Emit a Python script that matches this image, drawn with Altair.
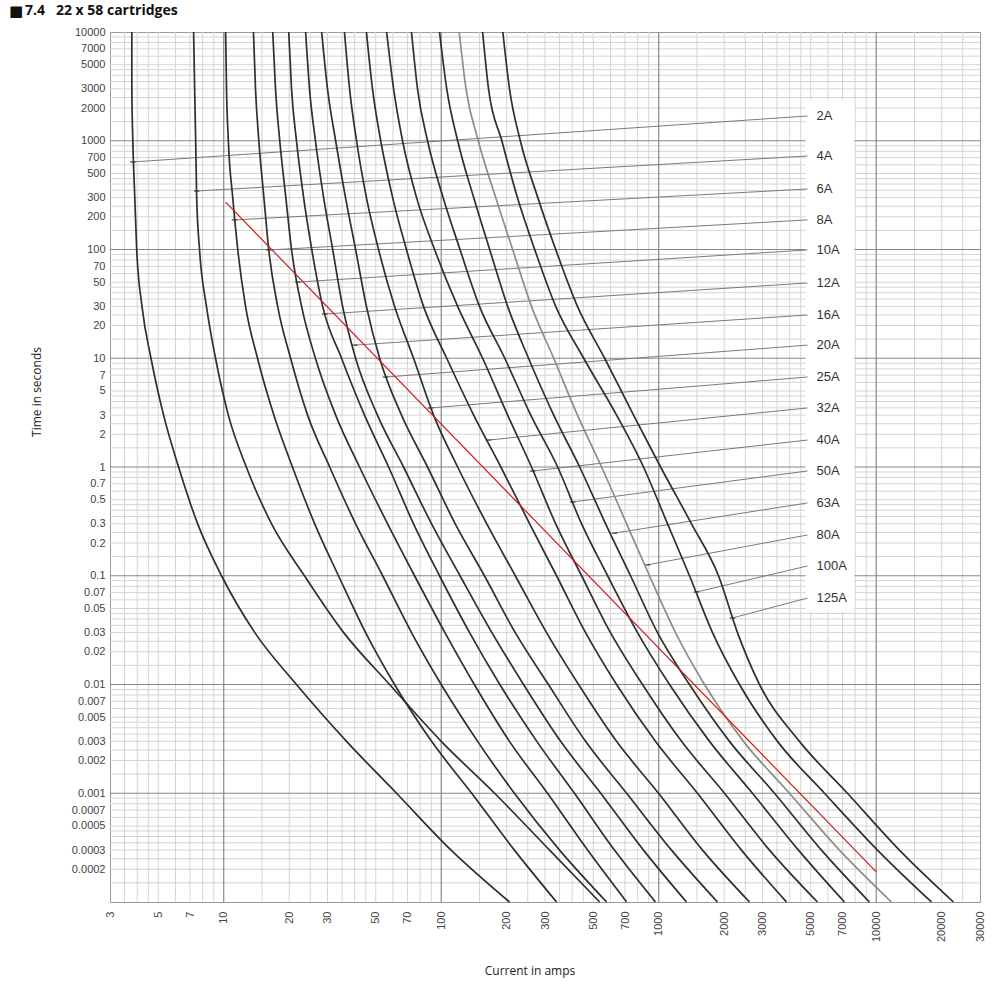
import altair as alt
import pandas as pd

# ---------------- data ----------------
ratings = ["2A", "4A", "6A", "8A", "10A", "12A", "16A", "20A", "25A", "32A",
           "40A", "50A", "63A", "80A", "100A", "125A"]

# pre-arcing time levels (s) at which every curve was read
secs = [10000, 3000, 1000, 300, 100, 30, 10, 3, 1, 0.3, 0.1, 0.03, 0.01,
        0.003, 0.001, 0.0003, 0.0001]

amps_2A = [3.78, 3.78, 3.82, 3.90, 3.98, 4.21, 4.63, 5.29, 6.20, 7.59, 9.77, 13.9, 21.6, 36.7, 62.3, 111, 206]
amps_4A = [7.27, 7.35, 7.43, 7.51, 7.74, 8.33, 9.17, 10.5, 12.7, 16.6, 23.5, 35.6, 57.9, 100, 176, 315, 535]
amps_6A = [10.2, 10.3, 10.5, 11.0, 11.6, 12.6, 14.3, 17.0, 20.7, 26.2, 33.7, 44.9, 61.0, 90.3, 138, 217, 339]
amps_8A = [13.7, 14.0, 14.5, 15.3, 16.1, 17.7, 20.3, 24.3, 30.7, 40.4, 53.8, 73.0, 100, 147, 217, 350, 576]
amps_10A = [16.8, 17.3, 18.1, 19.3, 20.5, 22.8, 26.4, 32.7, 42.1, 56.7, 75.4, 104, 142, 206, 308, 471, 712]
amps_12A = [19.9, 20.5, 21.6, 23.3, 25.4, 28.5, 34.8, 44.4, 57.3, 74.6, 98.2, 135, 186, 275, 410, 626, 966]
amps_16A = [23.8, 24.8, 26.4, 28.8, 31.7, 35.2, 40.4, 50.9, 67.1, 90.3, 122, 171, 239, 354, 541, 851, 1342]
amps_20A = [28.2, 30.0, 32.7, 36.3, 40.4, 45.3, 52.1, 65.7, 86.5, 116, 158, 219, 311, 461, 712, 1145, 1863]
amps_25A = [35.9, 37.9, 40.8, 45.3, 51.5, 61.0, 74.6, 92.2, 119, 162, 219, 305, 428, 640, 998, 1590, 2614]
amps_32A = [45.3, 48.3, 52.7, 59.8, 69.2, 82.9, 106, 141, 188, 255, 339, 461, 640, 966, 1507, 2401, 3866]
amps_40A = [56.1, 60.4, 66.4, 77.0, 93.2, 119, 155, 202, 260, 336, 442, 600, 842, 1273, 2006, 3230, 5367]
amps_50A = [73.0, 77.8, 86.5, 102, 122, 150, 196, 258, 343, 442, 582, 799, 1121, 1712, 2698, 4390, 7143]
amps_63A = [98.2, 106, 119, 141, 167, 202, 252, 329, 433, 570, 742, 987, 1385, 2115, 3405, 5600, 9306]
amps_80A = [121, 130, 148, 178, 213, 260, 329, 423, 546, 712, 907, 1194, 1624, 2453, 3991, 6775, 11746]
amps_100A = [155, 165, 190, 224, 269, 336, 452, 640, 851, 1098, 1385, 1767, 2351, 3515, 5781, 10128, 17935]
amps_125A = [192, 206, 231, 278, 336, 423, 564, 766, 1020, 1415, 1883, 2302, 2906, 4437, 7373, 12783, 22634]

curves = [amps_2A, amps_4A, amps_6A, amps_8A, amps_10A, amps_12A, amps_16A, amps_20A,
          amps_25A, amps_32A, amps_40A, amps_50A, amps_63A, amps_80A, amps_100A, amps_125A]

# leader lines: point on the curve -> label
tick_amps = [3.82, 7.51, 11.2, 16.1, 21.9, 29.1, 40.0, 55.5, 89.3, 165, 263, 402, 626, 888, 1491, 2183]
tick_secs = [638, 345, 187, 99, 50.2, 25.5, 13.2, 6.72, 3.49, 1.77, 0.919, 0.477, 0.247, 0.126, 0.0709, 0.0409]
label_amps = 4830
label_secs = [1689, 724, 360, 187, 99, 49.2, 25.0, 13.2, 6.72, 3.49, 1.77, 0.919, 0.467, 0.237, 0.123, 0.0624]

# label column background
box_amps = [4728, 7940]
box_secs = [2371, 0.0464]

# red reference line
red_amps = [10.2, 10000]
red_secs = [273, 0.000189]

# grid and tick labels
x_major = [10, 100, 1000, 10000]
y_major = [0.001, 0.01, 0.1, 1, 10, 100, 1000]
grid_mults = [1.5, 2, 2.5, 3, 3.5, 4, 4.5, 5, 6, 7, 8, 9]
x_labels = [3, 5, 7, 10, 20, 30, 50, 70, 100, 200, 300, 500, 700, 1000, 2000, 3000,
            5000, 7000, 10000, 20000, 30000]
y_labels = [10000, 7000, 5000, 3000, 2000, 1000, 700, 500, 300, 200, 100, 70, 50, 30, 20,
            10, 7, 5, 3, 2, 1, 0.7, 0.5, 0.3, 0.2, 0.1, 0.07, 0.05, 0.03, 0.02, 0.01,
            0.007, 0.005, 0.003, 0.002, 0.001, 0.0007, 0.0005, 0.0003, 0.0002]

# ---------------- tables ----------------
rows = []
for name, amps in zip(ratings, curves):
    for i, (a, s) in enumerate(zip(amps, secs)):
        rows.append({"fuse": name, "amps": a, "secs": s, "ord": i,
                     "kind": "grey" if name == "80A" else "black"})
df = pd.DataFrame(rows)

lead = pd.DataFrame({"fuse": ratings, "a1": tick_amps, "s1": tick_secs,
                     "a2": [label_amps] * len(ratings), "s2": label_secs})

x_minor = [b * m for b in [1, 10, 100, 1000, 10000] for m in grid_mults]
x_minor = [v for v in x_minor if 3 < v < 30000]
y_minor = [b * m for b in [0.0001, 0.001, 0.01, 0.1, 1, 10, 100, 1000] for m in grid_mults]

LBL_FONT = "Liberation Sans"
TTL_FONT = "Open Sans"

xs = alt.Scale(type="log", domain=[3, 30000], nice=False)
ys = alt.Scale(type="log", domain=[0.0001, 10000], nice=False)

AX_X = alt.Axis(values=x_labels, format="~g", labelAngle=270, labelAlign="right",
                labelBaseline="middle", labelPadding=9, ticks=False, domain=False,
                grid=False, title=None, labelFont=LBL_FONT, labelFontSize=11,
                labelColor="#444", labelFlush=False, labelOverlap=False, labelBound=False)
AX_Y = alt.Axis(values=y_labels, format="~g", labelPadding=5, ticks=False,
                domain=False, grid=False, title=None, labelFont=LBL_FONT,
                labelFontSize=11, labelColor="#444", labelFlush=False,
                labelOverlap=False, labelBound=False)


def X(field):
    return alt.X(field, scale=xs, axis=AX_X)


def Y(field):
    return alt.Y(field, scale=ys, axis=AX_Y)


gx_minor = alt.Chart(pd.DataFrame({"v": x_minor})).mark_rule(color="#d4d4d4", strokeWidth=1).encode(
    x=X("v:Q"))
gy_minor = alt.Chart(pd.DataFrame({"v": y_minor})).mark_rule(color="#d4d4d4", strokeWidth=1).encode(
    y=Y("v:Q"))
gx_major = alt.Chart(pd.DataFrame({"v": x_major})).mark_rule(color="#888888", strokeWidth=1.2).encode(
    x=X("v:Q"))
gy_major = alt.Chart(pd.DataFrame({"v": y_major})).mark_rule(color="#888888", strokeWidth=1.2).encode(
    y=Y("v:Q"))

box = alt.Chart(pd.DataFrame({"a1": [box_amps[0]], "a2": [box_amps[1]],
                              "s1": [box_secs[0]], "s2": [box_secs[1]]})).mark_rect(
    color="white", opacity=1).encode(x=X("a1:Q"), x2="a2:Q", y=Y("s1:Q"), y2="s2:Q")

leaders = alt.Chart(lead).mark_rule(color="#7a7a7a", strokeWidth=1).encode(
    x=X("a1:Q"), x2="a2:Q", y=Y("s1:Q"), y2="s2:Q")

ticks = alt.Chart(lead).mark_point(shape="stroke", size=30, color="#333", strokeWidth=1.6,
                                   filled=False).encode(x=X("a1:Q"), y=Y("s1:Q"))

lines = alt.Chart(df).mark_line(strokeWidth=1.7, interpolate="monotone").encode(
    x=X("amps:Q"),
    y=Y("secs:Q"),
    detail="fuse:N",
    order="ord:Q",
    color=alt.Color("kind:N", scale=alt.Scale(domain=["black", "grey"],
                                              range=["#2f2f2f", "#8c8c8c"]), legend=None))

red = alt.Chart(pd.DataFrame({"a": red_amps, "s": red_secs})).mark_line(
    color="#d11a1a", strokeWidth=1.2).encode(x=X("a:Q"), y=Y("s:Q"))

labels = alt.Chart(lead).mark_text(align="left", baseline="middle", dx=9, font=LBL_FONT,
                                   fontSize=13, color="#333").encode(
    x=X("a2:Q"), y=Y("s2:Q"), text="fuse:N")

bullet = alt.Chart(pd.DataFrame({"t": ["\u25a0"]})).mark_text(
    align="left", baseline="middle", font="DejaVu Sans", fontSize=15,
    color="#111").encode(text="t:N", x=alt.value(-101), y=alt.value(-21))

header = alt.Chart(pd.DataFrame({"t": ["7.4\u00a0\u00a0 22 x 58 cartridges"]})).mark_text(
    align="left", baseline="middle", font=TTL_FONT, fontSize=14, fontWeight="bold",
    color="#111").encode(text="t:N", x=alt.value(-85), y=alt.value(-21))

ytitle = alt.Chart(pd.DataFrame({"t": ["Time in seconds"]})).mark_text(
    align="center", baseline="middle", angle=270, font=TTL_FONT, fontSize=12,
    color="#222").encode(text="t:N", x=alt.value(-73), y=alt.value(360))

xtitle = alt.Chart(pd.DataFrame({"t": ["Current in amps"]})).mark_text(
    align="center", baseline="middle", font=TTL_FONT, fontSize=12,
    color="#222").encode(text="t:N", x=alt.value(420), y=alt.value(939))

chart = alt.layer(gx_minor, gy_minor, gx_major, gy_major, box, leaders, ticks, lines, red,
                  labels, bullet, header, ytitle, xtitle).properties(
    width=870, height=870,
    autosize=alt.AutoSizeParams(type="none"),
    padding={"left": 110, "top": 32, "right": 20, "bottom": 82},
    background="white",
).configure_view(stroke="#9a9a9a", strokeWidth=1)

chart.save("out.html", embed_options={"renderer": "svg", "actions": False})
